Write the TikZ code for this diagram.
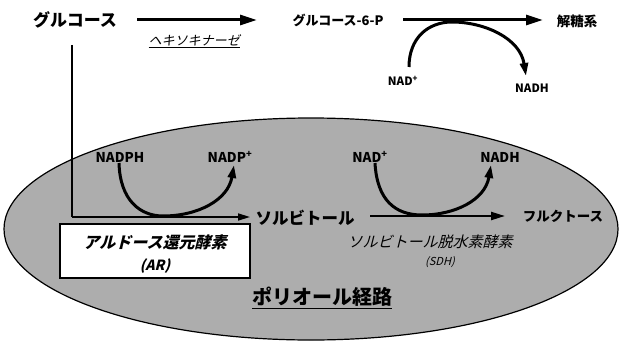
\documentclass[tikz,border=0pt]{standalone}
\usepackage{fontspec}
\setmainfont{Noto Sans CJK JP}
\usetikzlibrary{arrows.meta}
\newfontfamily\slantjp[FakeSlant=0.25]{Noto Sans CJK JP}
\begin{document}
\begin{tikzpicture}[x=1pt,y=-1pt,
  lbl/.style={inner sep=0pt,font=\bfseries},
  bigarrow/.style={line width=3pt,-{Triangle[length=17pt,width=10pt]}},
  cofarrow/.style={line width=3pt,-{Triangle[length=13pt,width=8pt]}},
  thinline/.style={line width=1.3pt}]
\useasboundingbox (0,0) rectangle (620,345);
\fill[white] (0,0) rectangle (620,345);
% ellipse
\draw[line width=1.2pt,fill=black!32] (311,229) ellipse [x radius=307pt, y radius=111pt];

% top row
\node[lbl,font=\fontsize{17}{17}\selectfont\bfseries] (glc) at (75,20) {グルコース};
\node[lbl,font=\fontsize{13}{13}\selectfont\bfseries] (g6p) at (338,20) {グルコース-6-P};
\node[lbl,font=\fontsize{13.5}{13.5}\selectfont\bfseries] (glyc) at (577,21) {解糖系};
\node[inner sep=0pt,font=\fontsize{13}{13}\selectfont\slantjp] (hk) at (194,41) {\underline{ヘキソキナーゼ}};
\coordinate (a1s) at (137,20);
\coordinate (a1e) at (257,20);
\draw[bigarrow] (a1s) -- (a1e);
\coordinate (a2s) at (403,20);
\coordinate (a2e) at (543,20);
\draw[bigarrow] (a2s) -- (a2e);
\node[lbl,font=\fontsize{11.5}{11.5}\selectfont\bfseries] (nad1) at (403,81) {NAD\textsuperscript{+}};
\node[lbl,font=\fontsize{11.5}{11.5}\selectfont\bfseries] (nadh1) at (532,88) {NADH};
\coordinate (t1) at (452,22);
\draw[cofarrow] (409,67) .. controls (409,38) and (428,22) .. (t1)
   .. controls (484,22) and (520,38) .. (526,76);

% vertical line from glucose
\coordinate (v1) at (72,45);
\coordinate (v2) at (72,217);
\coordinate (v3) at (250,217);
\draw[thinline] (v1) -- (v2);
\draw[line width=1.6pt,-{Triangle[length=12pt,width=7pt]}] (v2) -- (v3);

% lower labels
\node[lbl,font=\fontsize{13.5}{13.5}\selectfont\bfseries] (nadph) at (120,157) {NADPH};
\node[lbl,font=\fontsize{13.5}{13.5}\selectfont\bfseries] (nadp) at (230,157) {NADP\textsuperscript{+}};
\draw[cofarrow] (119,163) .. controls (120,200) and (140,216) .. (163,216)
   .. controls (198,216) and (228,200) .. (234,165);

\node[lbl,font=\fontsize{16.5}{16.5}\selectfont\bfseries] (sorb) at (305,218) {ソルビトール};
\node[lbl,font=\fontsize{13.5}{13.5}\selectfont\bfseries] (fruc) at (563,216) {フルクトース};
\coordinate (a3s) at (370,216);
\coordinate (a3e) at (505,216);
\draw[line width=2.2pt,-{Triangle[length=14pt,width=8pt]}] (a3s) -- (a3e);

\node[lbl,font=\fontsize{13.5}{13.5}\selectfont\bfseries] (nad2) at (370,157) {NAD\textsuperscript{+}};
\node[lbl,font=\fontsize{13.5}{13.5}\selectfont\bfseries] (nadh2) at (500,157) {NADH};
\draw[cofarrow] (375,163) .. controls (377,200) and (395,215) .. (422,215)
   .. controls (455,215) and (485,200) .. (491,165);

% box AR
\node[draw,line width=1.3pt,fill=white,minimum width=190pt,minimum height=54pt,inner sep=0pt] (arbox) at (155,251) {};
\node[inner sep=0pt,font=\fontsize{16}{16}\selectfont\bfseries\slantjp] (ar1) at (155,242) {アルドース還元酵素};
\node[inner sep=0pt,font=\fontsize{14}{14}\selectfont\bfseries\slantjp] (ar2) at (155,266) {(AR)};

% SDH
\node[inner sep=0pt,font=\fontsize{15}{15}\selectfont\slantjp] (sdh1) at (430,242) {ソルビトール脱水素酵素};
\node[inner sep=0pt,font=\fontsize{11}{11}\selectfont\slantjp] (sdh2) at (440,262) {(SDH)};

% polyol
\node[inner sep=0pt,font=\fontsize{20}{20}\selectfont\bfseries] (poly) at (322,298) {\underline{ポリオール経路}};
\end{tikzpicture}
\end{document}
